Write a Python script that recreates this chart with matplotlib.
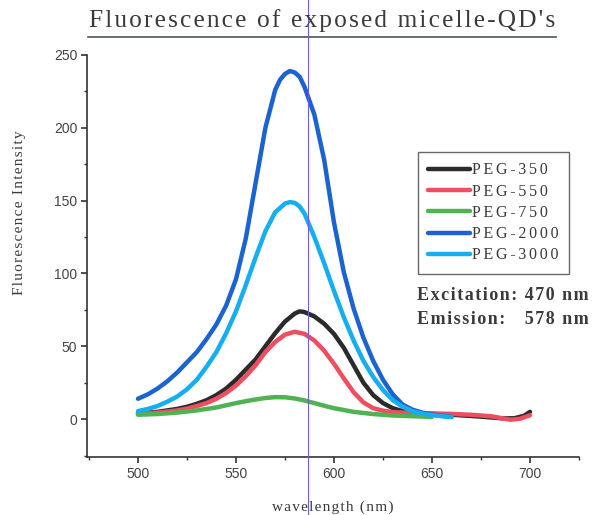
"""Fluorescence spectra of exposed micelle-QD's (PEG chain length series)."""

import matplotlib
matplotlib.use("Agg")
import matplotlib.pyplot as plt
from matplotlib.lines import Line2D
from matplotlib.ticker import MultipleLocator

# ---- data ----
wl_350 = [500, 505, 510, 515, 520, 525, 530, 535, 540, 545, 550, 555, 560, 565, 570,
          575, 580, 582.5, 585, 590, 595, 600, 605, 610, 615, 620, 625, 630, 635, 640,
          645, 650, 660, 670, 680, 686, 692, 697, 700]
peg_350 = [4, 4.5, 5, 6, 7, 8.5, 10.5, 13, 16.5, 21, 27, 34, 41, 50, 59,
           67, 72.5, 74, 73.5, 70.5, 65.5, 58.5, 49, 37, 25, 16.5, 11, 7.5, 5.5, 4.5,
           4, 3.6, 3, 2.2, 1.2, 0.5, 0.6, 2.3, 5]

wl_550 = [500, 505, 510, 515, 520, 525, 530, 535, 540, 545, 550, 555, 560, 565, 570,
          575, 580, 585, 590, 595, 600, 605, 610, 615, 620, 625, 630, 640, 650, 660,
          670, 680, 685, 690, 695, 700]
peg_550 = [4, 4.2, 4.5, 5.2, 6, 7.2, 9, 11, 14, 18, 23, 29.5, 37, 46, 53,
           58, 60, 58.5, 54, 47, 38, 28, 18.5, 11.5, 7.5, 5.8, 4.8, 4.2, 3.9, 3.6,
           3, 2, 0.8, -0.4, 0.3, 2.7]

wl_750 = [500, 510, 520, 530, 540, 550, 555, 560, 565, 570, 575, 580, 585, 590, 595,
          600, 610, 620, 630, 640, 650]
peg_750 = [3, 3.5, 4.5, 6, 8, 11, 12.3, 13.5, 14.5, 15.1, 15, 14.2, 12.8, 11, 9.2,
           7.5, 5, 3.5, 2.5, 2, 1.5]

wl_2000 = [500, 505, 510, 515, 520, 525, 530, 535, 540, 545, 550, 555, 560, 565, 570,
           572.5, 575, 577.5, 580, 582.5, 585, 590, 595, 600, 605, 610, 615, 620, 625,
           630, 635, 640, 645, 650, 655, 660]
peg_2000 = [14, 17, 21, 26, 32, 39, 46, 55, 65, 78, 96, 124, 162, 200, 226,
            233, 237, 239, 238, 235, 228, 209, 178, 135, 101, 76, 56, 40, 27,
            17, 10, 6.5, 4.5, 3.2, 2.3, 1.6]

wl_3000 = [500, 505, 510, 515, 520, 525, 530, 535, 540, 545, 550, 555, 560, 565, 570,
           575, 577.5, 580, 582.5, 585, 590, 595, 600, 605, 610, 615, 620, 625, 630,
           635, 640, 645, 650, 655, 660]
peg_3000 = [5.5, 7, 9, 12, 15.5, 20.5, 27, 36, 46, 59, 74, 92, 111, 129, 142,
            148, 149, 148.5, 146, 141, 125, 107, 88, 70, 54, 40, 29, 20, 13,
            8.5, 5.5, 3.8, 2.8, 2, 1.4]

series = [
    ("PEG-350", wl_350, peg_350, "#2b2b2b"),
    ("PEG-550", wl_550, peg_550, "#ef4d60"),
    ("PEG-750", wl_750, peg_750, "#4fb253"),
    ("PEG-2000", wl_2000, peg_2000, "#1b63cf"),
    ("PEG-3000", wl_3000, peg_3000, "#16aef0"),
]

HS = "\u200a"  # hair space, fakes the letter spacing of the original


def spaced(s, gap=HS):
    return gap.join(s)


SERIF = ["Liberation Serif", "DejaVu Serif"]
TXT = "#3a3a3a"

fig = plt.figure(figsize=(5.98, 5.15), dpi=100)
ax = fig.add_axes([87 / 598, 58 / 515, 492 / 598, 402 / 515])

for name, x, y, c in series:
    ax.plot(x, y, color=c, lw=3.2, solid_capstyle="round", solid_joinstyle="round",
            label=spaced(name, HS * 2))

ax.set_xlim(474, 725)
ax.set_ylim(-26, 250)
ax.xaxis.set_minor_locator(MultipleLocator(25))
ax.yaxis.set_minor_locator(MultipleLocator(25))
ax.set_xticks([500, 550, 600, 650, 700])
ax.set_yticks([0, 50, 100, 150, 200, 250])

for side in ("top", "right"):
    ax.spines[side].set_visible(False)
for side in ("left", "bottom"):
    ax.spines[side].set_linewidth(1.2)
    ax.spines[side].set_color("#333333")

ax.tick_params(which="major", direction="out", length=4, width=1.2, color="#333333",
               labelsize=10, labelcolor="#444444", pad=3)
ax.tick_params(which="minor", direction="out", length=2.5, width=1.0, color="#333333")
for lab in ax.get_xticklabels() + ax.get_yticklabels():
    lab.set_fontfamily(["Liberation Sans", "DejaVu Sans"])

ax.set_xlabel(spaced("wavelength (nm)"), family=SERIF, fontsize=11, color=TXT, labelpad=14)
fig.text(20 / 598, 1 - 213 / 515, spaced("Fluorescence Intensity"), family=SERIF,
         fontsize=11, color=TXT, rotation=90, ha="center", va="center")

# title with underline
fig.text(322 / 598, 1 - 21 / 515, spaced("Fluorescence of exposed micelle-QD's"),
         family=SERIF, fontsize=18.3, color=TXT, ha="center", va="center")
fig.add_artist(Line2D([88 / 598, 556 / 598], [1 - 37 / 515] * 2, color="#4a5a4a", lw=1.2))

leg = ax.legend(loc="upper left", bbox_to_anchor=(418 / 598, 1 - 152 / 515),
                bbox_transform=fig.transFigure, borderaxespad=0, fancybox=False,
                frameon=True, edgecolor="#444444", handlelength=2.6, handletextpad=0.15,
                labelspacing=0.33, borderpad=0.65, prop={"family": SERIF, "size": 11.5})
leg.get_frame().set_linewidth(1.0)
for t in leg.get_texts():
    t.set_color(TXT)

fig.text(417 / 598, 1 - 296 / 515, spaced("Excitation: 470 nm"), family=SERIF,
         fontsize=13, weight="bold", color=TXT, va="center")
fig.text(417 / 598, 1 - 320 / 515, spaced("Emission:   578 nm"), family=SERIF,
         fontsize=13, weight="bold", color=TXT, va="center")

# thin marker line drawn across the whole figure
fig.add_artist(Line2D([308 / 598] * 2, [0, 1], color="#6a5ce6", lw=0.8))

fig.savefig("out.png", dpi=100)
